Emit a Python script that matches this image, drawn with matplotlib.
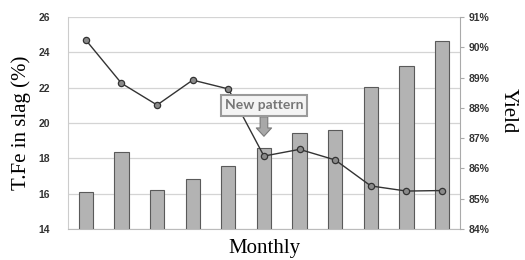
import numpy as np
import matplotlib.pyplot as plt

# monthly data
months = np.arange(11)
yield_pct = [85.22, 86.54, 85.29, 85.65, 86.08, 86.67, 87.17, 87.27, 88.69, 89.38, 90.21]
tfe_slag = [24.70, 22.25, 21.02, 22.43, 21.93, 18.13, 18.51, 17.91, 16.44, 16.15, 16.18]
left_ticks = [14, 16, 18, 20, 22, 24, 26]
right_ticks = [84, 85, 86, 87, 88, 89, 90, 91]

fig = plt.figure(figsize=(5.25, 2.6), dpi=100)
ax = fig.add_axes([0.1295, 0.119, 0.7465, 0.8156])
ax2 = ax.twinx()
ax3 = ax.twinx()

tick_font = dict(family='Liberation Sans', weight='bold', size=7.5)

# left axis: T.Fe
ax.set_xlim(-0.5, 10.5)
ax.set_ylim(14, 26)
ax.set_yticks(left_ticks)
ax.set_yticklabels([str(t) for t in left_ticks], **tick_font, color='#333333')
ax.tick_params(axis='y', length=0, pad=13)
ax.set_xticks([])
ax.grid(axis='y', color='#d4d4d4', linewidth=0.9)
ax.set_axisbelow(True)
for s in ['top', 'right']:
    ax.spines[s].set_visible(False)
ax.spines['left'].set_color('#cccccc')
ax.spines['bottom'].set_color('#bbbbbb')
ax.set_ylabel('T.Fe in slag (%)', family='Liberation Serif', size=15, labelpad=5)
ax.set_xlabel('Monthly', family='Liberation Serif', size=15, labelpad=7)

# right axis: yield bars
ax2.bar(months, yield_pct, width=0.4, bottom=0, color='#b3b3b3', edgecolor='#5a5a5a', linewidth=0.8)
ax2.set_ylim(84, 91)
ax2.set_yticks(right_ticks)
ax2.set_yticklabels(['%d%%' % t for t in right_ticks], **tick_font, color='#333333')
ax2.tick_params(axis='y', length=3, width=0.8, color='#aaaaaa', pad=3)
for s in ['top', 'left', 'bottom']:
    ax2.spines[s].set_visible(False)
ax2.spines['right'].set_color('#aaaaaa')

# line on top
ax3.set_ylim(14, 26)
ax3.set_yticks([])
for s in ax3.spines.values():
    s.set_visible(False)
ax3.plot(months, tfe_slag, color='#333333', linewidth=1.0, marker='o', markersize=4.5,
         markerfacecolor='#8a8a8a', markeredgecolor='#333333', markeredgewidth=0.9)

ax3.annotate('', xy=(5, 19.25), xytext=(5, 20.35),
             arrowprops=dict(arrowstyle='simple,head_length=0.6,head_width=1.1,tail_width=0.55',
                             fc='#a8a8a8', ec='#7a7a7a', lw=0.8, shrinkA=0, shrinkB=0))
ax3.text(5, 21.0, 'New pattern', ha='center', va='center', family='Lato', weight='bold',
         size=10, color='#777777',
         bbox=dict(boxstyle='square,pad=0.3', fc='#f4f4f4', ec='#9a9a9a', lw=1.5))

fig.text(0.968, 0.575, 'Yield', rotation=-90, ha='center', va='center',
         family='Liberation Serif', size=15)

fig.savefig('out.png', dpi=100)
